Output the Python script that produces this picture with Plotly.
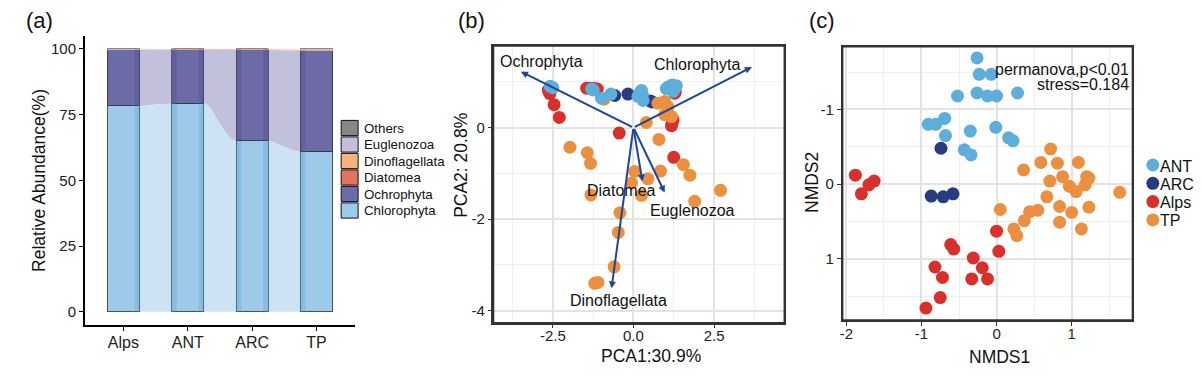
import numpy as np
import plotly.graph_objects as go

W, H = 1202, 376
OFF = 8                      # page body margin of the rendered html
FW, FH = W - OFF, H - OFF
FONT = "Liberation Sans, Arial, sans-serif"

# ---------------- Panel (a): relative abundance ----------------
sites = ["Alps", "ANT", "ARC", "TP"]
taxa = ["Chlorophyta", "Ochrophyta", "Diatomea", "Dinoflagellata", "Euglenozoa", "Others"]
chlorophyta = [78.3, 79.3, 65.0, 61.0]
ochrophyta = [21.4, 20.5, 34.6, 38.2]
diatomea = [0.1, 0.1, 0.3, 0.3]
dinoflagellata = [0.1, 0.05, 0.05, 0.35]
euglenozoa = [0.05, 0.03, 0.03, 0.1]
others = [0.05, 0.02, 0.02, 0.05]
abund_ticks = [0, 25, 50, 75, 100]

# ---------------- Panel (b): PCA ----------------
pca_ant_x = [-2.58, -2.50, -1.30, -1.25, -0.99, -0.70, 0.25, 0.14, 0.30, 0.28, 0.20, 1.07, 1.33, 1.23, 1.15, 1.02, 1.20, 1.28]
pca_ant_y = [0.90, 0.87, 0.84, 0.82, 0.64, 0.73, 0.81, 0.68, 0.59, 0.72, 0.75, 0.88, 0.91, 0.79, 0.90, 0.85, 0.93, 0.85]
pca_arc_x = [-0.58, -0.17, 0.52, 0.58]
pca_arc_y = [0.70, 0.73, 0.58, 0.56]
pca_alps_x = [-2.64, -2.62, -2.59, -2.46, -2.30, -1.45, -1.35, -1.12, -0.44, 1.23, 1.20, 1.18, 1.25, 1.28, 1.30, -1.25]
pca_alps_y = [0.82, 0.78, 0.74, 0.50, 0.22, 0.86, 0.86, 0.84, -0.12, 0.17, 0.10, 0.04, -0.65, 0.75, 0.78, 0.86]
pca_tp_x = [-1.97, -1.43, -1.33, -1.32, -0.91, 0.04, -0.06, 0.45, 0.25, -0.42, -0.47, -0.60, -1.20, -1.10,
            0.40, 0.79, 0.84, 1.55, 1.75, 2.70, 1.90, 0.76, 0.97, 0.97, 1.18, 1.07]
pca_tp_y = [-0.43, -0.55, -0.78, -1.47, 0.62, -0.96, -1.21, -1.12, -1.48, -1.86, -2.29, -3.04, -3.40, -3.38,
            0.11, -0.26, -0.95, -0.81, -1.04, -1.37, -1.61, 0.53, 0.57, 0.28, 0.24, 0.45]
arrow_names = ["Ochrophyta", "Chlorophyta", "Diatomea", "Euglenozoa", "Dinoflagellata"]
arrow_pc1 = [-3.49, 3.67, 0.28, 0.97, -0.68]
arrow_pc2 = [1.22, 1.32, -1.18, -1.42, -3.51]
pca_x_ticks = [-2.5, 0.0, 2.5]
pca_x_labels = ["-2.5", "0.0", "2.5"]
pca_y_ticks = [-4, -2, 0]
pca_y_labels = ["-4", "-2", "0"]

# ---------------- Panel (c): NMDS ----------------
groups = ["ANT", "ARC", "Alps", "TP"]
nmds_ant_x = [-0.26, -0.23, -0.07, -0.52, -0.26, -0.12, 0.00, 0.28, -0.91, -0.81, -0.69, -0.68, -0.35, -0.01, 0.16, 0.22, -0.43, -0.34]
nmds_ant_y = [-1.69, -1.47, -1.47, -1.18, -1.22, -1.18, -1.18, -1.22, -0.80, -0.80, -0.88, -0.65, -0.71, -0.76, -0.62, -0.58, -0.46, -0.39]
nmds_arc_x = [-0.74, -0.87, -0.71, -0.58]
nmds_arc_y = [-0.48, 0.16, 0.17, 0.13]
nmds_alps_x = [-1.88, -1.80, -1.70, -1.63, -0.61, -0.57, -0.82, -0.72, -0.75, -0.94, -0.31, -0.19, -0.33, -0.12, 0.00, 0.03]
nmds_alps_y = [-0.12, 0.13, 0.01, -0.04, 0.81, 0.87, 1.11, 1.25, 1.52, 1.66, 0.99, 1.12, 1.27, 1.27, 0.63, 0.90]
nmds_tp_x = [0.05, 0.36, 0.59, 0.72, 0.81, 0.71, 0.88, 1.09, 0.97, 1.06, 1.20, 1.23, 1.18, 0.67, 0.84, 1.00, 1.23,
             0.84, 1.13, 0.55, 0.44, 0.37, 0.23, 0.27, 1.64]
nmds_tp_y = [0.34, -0.19, -0.29, -0.47, -0.28, -0.04, -0.10, -0.29, 0.03, 0.10, -0.10, -0.08, 0.01, 0.17, 0.30, 0.38, 0.31,
             0.51, 0.60, 0.35, 0.37, 0.49, 0.60, 0.69, 0.11]
nmds_x_ticks = [-2, -1, 0, 1]
nmds_x_labels = ["-2", "-1", "0", "1"]
nmds_y_ticks = [-1, 0, 1]
nmds_y_labels = ["-1", "0", "1"]
nmds_notes = ["permanova,p&lt;0.01", "stress=0.184"]

# ---------------- styles ----------------
bar_colors = {"Chlorophyta": "#9ccae8", "Ochrophyta": "#6b6ba7", "Diatomea": "#e2735e",
              "Dinoflagellata": "#f2b47c", "Euglenozoa": "#c6bddb", "Others": "#8a8586"}
bar_edges = {"Chlorophyta": "#333", "Ochrophyta": "#333", "Diatomea": "#e2735e",
             "Dinoflagellata": "#f2b47c", "Euglenozoa": "#c6bddb", "Others": "#8a8586"}
flow_colors = {"Chlorophyta": "rgba(90,160,215,0.30)", "Ochrophyta": "rgba(80,75,150,0.35)",
               "Diatomea": "rgba(220,80,60,0.35)", "Dinoflagellata": "rgba(240,160,90,0.35)",
               "Euglenozoa": "rgba(180,165,210,0.35)", "Others": "rgba(120,115,115,0.35)"}
group_colors = {"ANT": "#5daedb", "ARC": "#283c82", "Alps": "#d9302c", "TP": "#ea9040"}
arrow_color = "#1f4598"
TXT = "#111"


def px2x(p):
    return (p - OFF) / FW


def py2y(p):
    return 1 - (p - OFF) / FH


def minor_vals(ticks):
    step = ticks[1] - ticks[0]
    return list(np.arange(ticks[0] - 3 * step, ticks[-1] + 3 * step, step) + step / 2)


fig = go.Figure()

# ---- panel (a) bars + flows ----
values = {"Chlorophyta": chlorophyta, "Ochrophyta": ochrophyta, "Diatomea": diatomea,
          "Dinoflagellata": dinoflagellata, "Euglenozoa": euglenozoa, "Others": others}
xpos = np.arange(len(sites))
bw = 0.5
for t in taxa:
    fig.add_trace(go.Bar(x=xpos, y=values[t], width=bw, name=t,
                         marker=dict(color=bar_colors[t], line=dict(color=bar_edges[t], width=0.8)),
                         xaxis="x", yaxis="y", showlegend=False))

cum = np.zeros(len(sites))
bottoms, tops = {}, {}
for t in taxa:
    bottoms[t] = cum.copy()
    cum = cum + np.array(values[t])
    tops[t] = cum.copy()

ext = 0.08
for t in taxa:
    for i in range(len(sites) - 1):
        xa, xb = i + bw / 2, i + 1 - bw / 2
        xs = np.linspace(xa, xb, 50)
        s = (xs - xa) / (xb - xa)
        s = 3 * s ** 2 - 2 * s ** 3
        topc = tops[t][i] + (tops[t][i + 1] - tops[t][i]) * s
        botc = bottoms[t][i] + (bottoms[t][i + 1] - bottoms[t][i]) * s
        fx = np.concatenate([[xa - ext], xs, [xb + ext]])
        ft = np.concatenate([[tops[t][i]], topc, [tops[t][i + 1]]])
        fb = np.concatenate([[bottoms[t][i]], botc, [bottoms[t][i + 1]]])
        fig.add_trace(go.Scatter(x=np.concatenate([fx, fx[::-1]]), y=np.concatenate([ft, fb[::-1]]),
                                 fill="toself", fillcolor=flow_colors[t], mode="lines",
                                 line=dict(width=0), hoverinfo="skip", showlegend=False,
                                 xaxis="x", yaxis="y"))

# ---- panel (b) PCA points ----
pca_groups = [("Alps", pca_alps_x, pca_alps_y), ("ARC", pca_arc_x, pca_arc_y),
              ("TP", pca_tp_x, pca_tp_y), ("ANT", pca_ant_x, pca_ant_y)]
for g, gx, gy in pca_groups:
    fig.add_trace(go.Scatter(x=gx, y=gy, mode="markers", name=g,
                             marker=dict(size=13, color=group_colors[g], line=dict(width=0)),
                             showlegend=False, xaxis="x2", yaxis="y2"))

# ---- panel (c) NMDS points ----
nmds_groups = [("Alps", nmds_alps_x, nmds_alps_y), ("ARC", nmds_arc_x, nmds_arc_y),
               ("TP", nmds_tp_x, nmds_tp_y), ("ANT", nmds_ant_x, nmds_ant_y)]
for g, gx, gy in nmds_groups:
    fig.add_trace(go.Scatter(x=gx, y=gy, mode="markers", name=g,
                             marker=dict(size=13, color=group_colors[g], line=dict(width=0)),
                             showlegend=False, xaxis="x3", yaxis="y3"))

annotations = []
shapes = []

# arrows (b)
label_shift = {"Ochrophyta": (21, 10), "Chlorophyta": (-55, 3), "Diatomea": (-21, -9),
               "Euglenozoa": (28, -18), "Dinoflagellata": (7, -12)}
for n, ax_, ay_ in zip(arrow_names, arrow_pc1, arrow_pc2):
    annotations.append(dict(x=ax_, y=ay_, ax=0, ay=0, xref="x2", yref="y2", axref="x2", ayref="y2",
                            text="", showarrow=True, arrowhead=2, arrowsize=0.7, arrowwidth=2,
                            arrowcolor=arrow_color, standoff=0, startstandoff=0))
    dx, dy = label_shift[n]
    annotations.append(dict(x=ax_, y=ay_, xref="x2", yref="y2", text=n, showarrow=False,
                            xanchor="center", yanchor="middle",
                            xshift=dx, yshift=dy, font=dict(size=16, color=TXT, family=FONT)))

# axis titles
title_font = dict(size=17.5, color=TXT, family=FONT)
for txt, xp, yp, ang in [("Relative Abundance(%)", 36, 180, -90), ("PCA1:30.9%", 650, 356, 0),
                         ("PCA2: 20.8%", 459, 165, -90), ("NMDS1", 999, 357, 0), ("NMDS2", 811, 182, -90)]:
    annotations.append(dict(x=px2x(xp), y=py2y(yp), xref="paper", yref="paper", text=txt, textangle=ang,
                            xanchor="center", yanchor="middle", showarrow=False, font=title_font))

# panel labels
for lab, xp in [("(a)", 21), ("(b)", 454), ("(c)", 806)]:
    annotations.append(dict(x=px2x(xp), y=py2y(21), xref="paper", yref="paper", text=lab, xanchor="left",
                            yanchor="middle", showarrow=False, font=dict(size=22, color=TXT, family=FONT)))

# NMDS notes
for txt, yp in zip(nmds_notes, [69, 84]):
    annotations.append(dict(x=px2x(1131), y=py2y(yp), xref="paper", yref="paper", text=txt, xanchor="right",
                            yanchor="middle", showarrow=False, font=dict(size=16, color=TXT, family=FONT)))

# legend (a): keys + labels, Others on top
for k, t in enumerate(taxa[::-1]):
    yc = 128 + 16.5 * k
    shapes.append(dict(type="rect", xref="paper", yref="paper", x0=px2x(339), x1=px2x(356),
                       y0=py2y(yc + 7.6), y1=py2y(yc - 7.6), fillcolor=bar_colors[t],
                       line=dict(color="#111", width=1)))
    annotations.append(dict(x=px2x(360), y=py2y(yc), xref="paper", yref="paper", text=t, xanchor="left",
                            yanchor="middle", showarrow=False, font=dict(size=13.3, color=TXT, family=FONT)))

# legend (c): dots + labels
for k, g in enumerate(groups):
    yc = 165 + 18.3 * k
    shapes.append(dict(type="circle", xref="paper", yref="paper", x0=px2x(1146.2), x1=px2x(1159.2),
                       y0=py2y(yc + 6.5), y1=py2y(yc - 6.5), fillcolor=group_colors[g],
                       line=dict(width=0)))
    annotations.append(dict(x=px2x(1158), y=py2y(yc + 1), xref="paper", yref="paper", text=g, xanchor="left",
                            yanchor="middle", showarrow=False, font=dict(size=16, color=TXT, family=FONT)))

# panel frames (b), (c)
for ax in ["x2", "x3"]:
    yax = "y" + ax[1:]
    shapes.append(dict(type="rect", xref=ax + " domain", yref=yax + " domain", x0=0, x1=1, y0=0, y1=1,
                       line=dict(color="#333", width=1.6), fillcolor="rgba(0,0,0,0)", layer="above"))

tick_font = dict(size=15, color="#222", family=FONT)
box_axis = dict(showline=True, mirror=True, linecolor="#333", linewidth=1.5, ticks="outside", ticklen=4,
                tickcolor="#333", tickwidth=1.2, showgrid=True, gridcolor="#e3e3e3", gridwidth=1.8,
                zeroline=False, tickfont=tick_font)


def minor(ticks):
    return dict(tickmode="array", tickvals=minor_vals(ticks), showgrid=True, gridcolor="#efefef",
                gridwidth=0.9, ticklen=0)


fig.update_layout(
    width=FW, height=FH, margin=dict(l=0, r=0, t=0, b=0), paper_bgcolor="white", plot_bgcolor="white",
    font=dict(family=FONT, color=TXT), barmode="stack", annotations=annotations, shapes=shapes,
    showlegend=False,
    xaxis=dict(domain=[px2x(82), px2x(353)], range=[-0.6, 3.6], tickvals=list(xpos), ticktext=sites,
               showline=True, linecolor="black", linewidth=1.6, ticks="outside", ticklen=4, tickcolor="black",
               showgrid=False, zeroline=False, ticklabelstandoff=-2,
               tickfont=dict(size=16, color="#222", family=FONT)),
    yaxis=dict(domain=[py2y(325), py2y(35.7)], range=[-5, 105], tickvals=abund_ticks,
               showline=True, linecolor="black", linewidth=1.6, ticks="outside", ticklen=4, tickcolor="black",
               showgrid=False, zeroline=False, tickfont=tick_font),
    xaxis2=dict(domain=[px2x(491.7), px2x(783.3)], range=[-4.34, 4.68], tickvals=pca_x_ticks,
                ticktext=pca_x_labels, anchor="y2", minor=minor(pca_x_ticks), ticklabelstandoff=-5, **box_axis),
    yaxis2=dict(domain=[py2y(322.7), py2y(46)], range=[-4.26, 1.78], tickvals=pca_y_ticks,
                ticktext=pca_y_labels, anchor="x2", minor=minor(pca_y_ticks), **box_axis),
    xaxis3=dict(domain=[px2x(841.7), px2x(1132.3)], range=[-2.05, 1.81], tickvals=nmds_x_ticks,
                ticktext=nmds_x_labels, anchor="y3", minor=minor(nmds_x_ticks), ticklabelstandoff=-5, **box_axis),
    yaxis3=dict(domain=[py2y(320), py2y(46.7)], range=[1.82, -1.84], tickvals=nmds_y_ticks,
                ticktext=nmds_y_labels, anchor="x3", minor=minor(nmds_y_ticks), **box_axis),
)

fig.write_html("out.html")
